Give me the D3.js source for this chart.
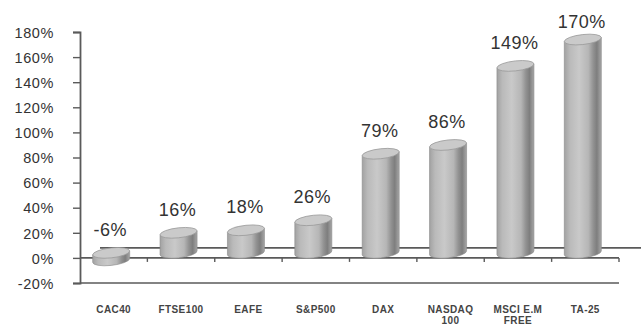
<!DOCTYPE html>
<html>
<head>
<meta charset="utf-8">
<script src="https://cdn.jsdelivr.net/npm/d3@7"></script>
<style>
  body { margin: 0; background: #fff; }
  svg { display: block; font-family: Arial, "Liberation Sans", sans-serif; }
</style>
</head>
<body>
<svg width="641" height="326"></svg>
<script>
// data
const categories = ["CAC40", "FTSE100", "EAFE", "S&P500", "DAX", "NASDAQ\n100", "MSCI E.M\nFREE", "TA-25"];
const values = [-6, 16, 18, 26, 79, 86, 149, 170];
const yTicks = [-20, 0, 20, 40, 60, 80, 100, 120, 140, 160, 180];

const svg = d3.select("svg");

// scales
const y = d3.scaleLinear().domain([-20, 180]).range([283, 32]);
const x = d3.scaleBand().domain(categories).range([80, 619]).padding(0);

const depthX = 20, depthY = -10;
const rx = 18.5, ry = 5;

// gradient for cylinder sides
const defs = svg.append("defs");
const grad = defs.append("linearGradient").attr("id", "cyl").attr("x1", 0).attr("x2", 1).attr("y1", 0).attr("y2", 0);
[[0, "#a2a2a2"], [0.15, "#bababa"], [0.4, "#c9c9c9"], [0.65, "#b6b6b6"], [0.78, "#929292"], [0.88, "#7e7e7e"], [1, "#a6a6a6"]]
  .forEach(s => grad.append("stop").attr("offset", s[0]).attr("stop-color", s[1]));

// floor: back edge
svg.append("line")
  .attr("x1", x.range()[0] + depthX).attr("x2", x.range()[1] + depthX + 4)
  .attr("y1", y(0) + depthY).attr("y2", y(0) + depthY)
  .attr("stroke", "#5a5a5a").attr("stroke-width", 1.6);

// floor: front edge with category ticks
svg.append("line")
  .attr("x1", x.range()[0]).attr("x2", x.range()[1])
  .attr("y1", y(0)).attr("y2", y(0))
  .attr("stroke", "#5a5a5a").attr("stroke-width", 1.6);

svg.selectAll(".xtick")
  .data(d3.range(1, categories.length + 1))
  .enter().append("line")
  .attr("x1", i => x.range()[0] + i * x.step())
  .attr("x2", i => x.range()[0] + i * x.step())
  .attr("y1", y(0)).attr("y2", y(0) + 4)
  .attr("stroke", "#5a5a5a").attr("stroke-width", 1.4);

// bottom line at -20%
svg.append("line")
  .attr("x1", x.range()[0]).attr("x2", x.range()[1])
  .attr("y1", y(-20)).attr("y2", y(-20))
  .attr("stroke", "#5a5a5a").attr("stroke-width", 1.6);

// y axis
const yAxis = svg.append("g")
  .attr("transform", "translate(80,0)")
  .call(d3.axisLeft(y).tickValues(yTicks).tickSize(7).tickPadding(20).tickFormat(d => d + "%"));
yAxis.select(".domain").attr("stroke", "#5a5a5a").attr("stroke-width", 1.8);
yAxis.selectAll(".tick line").attr("stroke", "#5a5a5a").attr("stroke-width", 1.4);
yAxis.selectAll(".tick text")
  .attr("fill", "#333").style("font-size", "14.5px").style("letter-spacing", "0.6px")
  .attr("x", -26).attr("dy", "0.36em");

// cylinders
const bars = svg.selectAll(".bar")
  .data(categories.map((c, i) => ({ c, v: values[i] })))
  .enter().append("g")
  .attr("class", "bar")
  .attr("transform", d => {
    const cx = x(d.c) + x.bandwidth() / 2 - 2.5;
    const cy = y(0) - 5;
    return `translate(${cx},${cy}) skewY(-6) translate(${-cx},${-cy})`;
  });

bars.append("path")
  .attr("d", d => {
    const cx = x(d.c) + x.bandwidth() / 2 - 2.5;
    const y0 = y(0) - 5, y1 = y(d.v) - 5;
    const top = Math.min(y0, y1), bot = Math.max(y0, y1);
    return `M${cx - rx},${top} L${cx - rx},${bot} A${rx},${ry} 0 0 0 ${cx + rx},${bot} L${cx + rx},${top} Z`;
  })
  .attr("fill", "url(#cyl)")
  .attr("stroke", "#8a8a8a").attr("stroke-width", 0.6);

bars.append("ellipse")
  .attr("cx", d => x(d.c) + x.bandwidth() / 2 - 2.5)
  .attr("cy", d => Math.min(y(0), y(d.v)) - 5)
  .attr("rx", rx).attr("ry", ry)
  .attr("fill", "#cacaca")
  .attr("stroke", "#9a9a9a").attr("stroke-width", 0.8);

// value labels
svg.selectAll(".val")
  .data(categories.map((c, i) => ({ c, v: values[i] })))
  .enter().append("text")
  .attr("x", d => x(d.c) + x.bandwidth() / 2 - 3.5)
  .attr("y", d => Math.max(Math.min(y(0), y(d.v)) - 5 - 17, 28))
  .attr("text-anchor", "middle")
  .attr("fill", "#333")
  .style("font-size", "18px").style("letter-spacing", "0.5px")
  .text(d => d.v + "%");

// category labels
const cat = svg.selectAll(".cat")
  .data(categories)
  .enter().append("text")
  .attr("x", d => x(d) + x.bandwidth() / 2)
  .attr("y", 313)
  .attr("text-anchor", "middle")
  .attr("fill", "#444")
  .style("font-size", "10px").style("font-weight", "bold").style("letter-spacing", "0.4px");
cat.selectAll("tspan")
  .data(d => d.split("\n").map((t, i) => ({ t, i })))
  .enter().append("tspan")
  .attr("x", function() { return d3.select(this.parentNode).attr("x"); })
  .attr("dy", d => d.i === 0 ? 0 : 11)
  .text(d => d.t);
</script>
</body>
</html>
